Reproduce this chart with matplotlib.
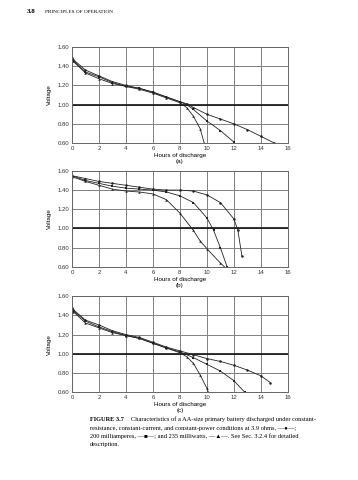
import numpy as np
from matplotlib import pyplot as plt

sansfont = {'family': ['Liberation Sans', 'DejaVu Sans']}
seriffont = ['Liberation Serif', 'DejaVu Serif']

# panel (a)
a_res_x = [0, 0.1, 1, 2, 3, 4, 5, 6, 7, 8, 8.5, 9, 10, 11, 12, 13, 14, 15]
a_res_y = [1.49, 1.47, 1.36, 1.30, 1.24, 1.20, 1.17, 1.13, 1.08, 1.03, 1.01, 0.97, 0.90, 0.85, 0.80, 0.74, 0.67, 0.60]
a_cur_x = [0, 0.1, 1, 2, 3, 4, 5, 6, 7, 8, 8.5, 9, 10, 11, 12]
a_cur_y = [1.48, 1.46, 1.34, 1.29, 1.23, 1.19, 1.17, 1.13, 1.08, 1.03, 1.00, 0.95, 0.83, 0.73, 0.61]
a_pow_x = [0, 0.1, 1, 2, 3, 4, 5, 6, 7, 8, 8.5, 9, 9.5, 9.8]
a_pow_y = [1.50, 1.45, 1.33, 1.27, 1.22, 1.19, 1.16, 1.12, 1.07, 1.02, 0.97, 0.88, 0.75, 0.60]

# panel (b)
b_res_x = [0, 1, 2, 3, 4, 5, 6, 7, 8, 9, 10, 11, 12, 12.3, 12.6]
b_res_y = [1.55, 1.52, 1.49, 1.47, 1.45, 1.43, 1.41, 1.40, 1.40, 1.39, 1.35, 1.27, 1.10, 0.98, 0.71]
b_cur_x = [0, 1, 2, 3, 4, 5, 6, 7, 8, 9, 10, 10.5, 11, 11.5]
b_cur_y = [1.55, 1.50, 1.47, 1.44, 1.42, 1.41, 1.40, 1.38, 1.34, 1.27, 1.11, 0.98, 0.80, 0.60]
b_pow_x = [0, 1, 2, 3, 4, 5, 6, 7, 8, 9, 9.5, 10, 11, 11.3]
b_pow_y = [1.54, 1.49, 1.45, 1.41, 1.39, 1.38, 1.36, 1.30, 1.16, 0.98, 0.87, 0.79, 0.64, 0.60]

# panel (c)
c_res_x = [0, 0.1, 1, 2, 3, 4, 5, 6, 7, 8, 9, 10, 11, 12, 13, 14, 14.7]
c_res_y = [1.48, 1.46, 1.35, 1.30, 1.24, 1.20, 1.17, 1.12, 1.07, 1.03, 0.99, 0.95, 0.92, 0.88, 0.83, 0.77, 0.70]
c_cur_x = [0, 0.1, 1, 2, 3, 4, 5, 6, 7, 8, 9, 10, 11, 12, 12.8]
c_cur_y = [1.47, 1.45, 1.34, 1.28, 1.23, 1.19, 1.16, 1.11, 1.06, 1.02, 0.96, 0.89, 0.82, 0.72, 0.60]
c_pow_x = [0, 0.1, 1, 2, 3, 4, 5, 6, 7, 8, 8.5, 9, 9.5, 10, 10.1]
c_pow_y = [1.49, 1.44, 1.32, 1.27, 1.22, 1.19, 1.16, 1.11, 1.06, 1.01, 0.97, 0.90, 0.78, 0.64, 0.60]

panels = [
    ("(a)", [(a_res_x, a_res_y, 'o'), (a_cur_x, a_cur_y, 's'), (a_pow_x, a_pow_y, '^')], 0.702),
    ("(b)", [(b_res_x, b_res_y, 'o'), (b_cur_x, b_cur_y, 's'), (b_pow_x, b_pow_y, '^')], 0.444),
    ("(c)", [(c_res_x, c_res_y, 'o'), (c_cur_x, c_cur_y, 's'), (c_pow_x, c_pow_y, '^')], 0.183),
]

fig = plt.figure(figsize=(3.58, 4.80), dpi=100)

for label, curves, bottom in panels:
    ax = fig.add_axes([0.201, bottom, 0.603, 0.200])
    ax.grid(True, color='#808080', lw=0.7)
    ax.axhline(1.0, color='#111111', lw=1.2)
    for xs, ys, mk in curves:
        ax.plot(xs, ys, color='#222222', lw=0.6, marker=mk, ms=1.8,
                markerfacecolor='#222222', markeredgewidth=0)
    ax.set_xlim(0, 16)
    ax.set_ylim(0.6, 1.6)
    ax.set_xticks(np.arange(0, 17, 2))
    ax.set_yticks([0.6, 0.8, 1.0, 1.2, 1.4, 1.6])
    ax.set_yticklabels(["0.60", "0.80", "1.00", "1.20", "1.40", "1.60"], **sansfont)
    ax.set_xticklabels([str(v) for v in range(0, 17, 2)], **sansfont)
    ax.tick_params(labelsize=4.3, length=0, pad=2, colors='#333333')
    for s in ax.spines.values():
        s.set_color('#666666')
        s.set_linewidth(0.7)
    ax.set_xlabel("Hours of discharge\n" + label, fontsize=4.5, labelpad=1.5,
                  linespacing=1.3, **sansfont)
    ax.set_ylabel("Voltage", fontsize=4.5, labelpad=4, **sansfont)

fig.text(0.075, 0.972, "3.8", fontsize=5, fontweight='bold', family=seriffont)
fig.text(0.125, 0.972, "PRINCIPLES OF OPERATION", fontsize=3.8, family=seriffont)

cap_lines = [
    "Characteristics of a AA-size primary battery discharged under constant-",
    "resistance, constant-current, and constant-power conditions at 3.9 ohms, \u2014\u25cf\u2014;",
    "200 milliamperes, \u2014\u25a0\u2014; and 235 milliwatts, \u2014\u25b2\u2014. See Sec. 3.2.4 for detailed",
    "description.",
]
fig.text(0.251, 0.122, "FIGURE 3.7", fontsize=4.6, fontweight='bold', family=seriffont)
fig.text(0.366, 0.122, cap_lines[0], fontsize=4.6, family=seriffont)
for i, line in enumerate(cap_lines[1:]):
    fig.text(0.251, 0.122 - (i + 1) * 0.017, line, fontsize=4.6, family=seriffont)

fig.savefig("out.png", dpi=100, facecolor='white')
